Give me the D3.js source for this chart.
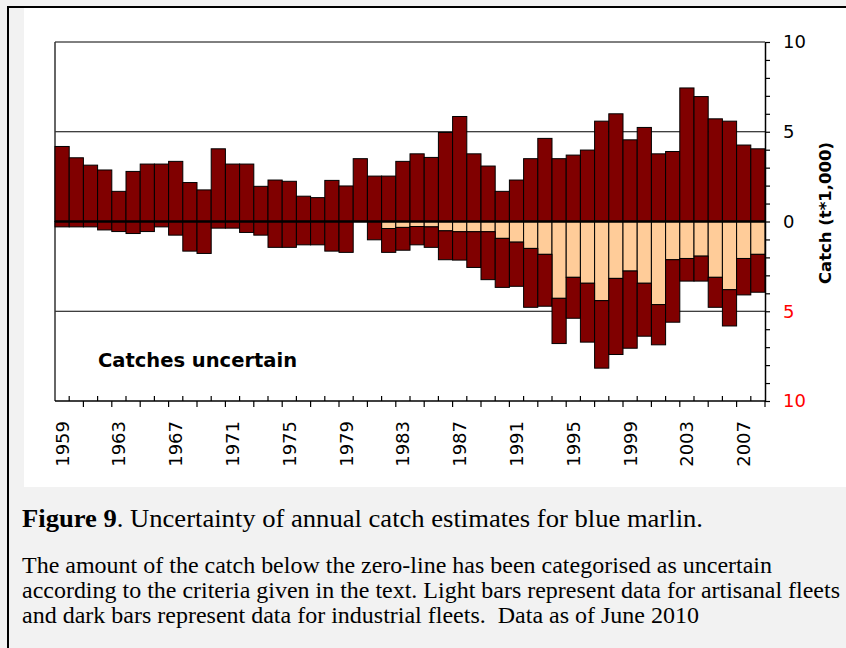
<!DOCTYPE html>
<html>
<head>
<meta charset="utf-8">
<script src="https://cdn.jsdelivr.net/npm/d3@7"></script>
<style>
  body { margin: 0; background: #fff; }
  svg { display: block; }
</style>
</head>
<body>
<div id="chart"></div>
<script>
// Years (categories)
const years = [1959, 1960, 1961, 1962, 1963, 1964, 1965, 1966, 1967, 1968,
               1969, 1970, 1971, 1972, 1973, 1974, 1975, 1976, 1977, 1978,
               1979, 1980, 1981, 1982, 1983, 1984, 1985, 1986, 1987, 1988,
               1989, 1990, 1991, 1992, 1993, 1994, 1995, 1996, 1997, 1998,
               1999, 2000, 2001, 2002, 2003, 2004, 2005, 2006, 2007, 2008];

// Catch above the zero-line (t*1,000)
const certainCatch = [4.18, 3.55, 3.14, 2.87, 1.68, 2.79, 3.2, 3.2, 3.35, 2.17,
                      1.76, 4.05, 3.2, 3.2, 1.96, 2.31, 2.24, 1.41, 1.33, 2.29,
                      1.98, 3.5, 2.53, 2.53, 3.35, 3.77, 3.57, 4.96, 5.85, 3.77,
                      3.09, 1.68, 2.31, 3.5, 4.63, 3.5, 3.7, 3.98, 5.59, 6.0,
                      4.55, 5.24, 3.77, 3.9, 7.44, 6.96, 5.72, 5.59, 4.26, 4.05];

// Uncertain catch, artisanal fleets (light bars, below zero)
const uncertainArtisanal = [0, 0, 0, 0, 0, 0, 0, 0, 0, 0,
                            0, 0, 0, 0, 0, 0, 0, 0, 0, 0,
                            0, 0, 0, 0.39, 0.33, 0.28, 0.3, 0.52, 0.57, 0.57,
                            0.57, 0.94, 1.15, 1.5, 1.83, 4.28, 3.11, 3.44, 4.41, 3.17,
                            2.76, 3.44, 4.63, 2.13, 2.06, 1.93, 3.11, 3.8, 2.06, 1.83];

// Uncertain catch, industrial fleets (dark bars, below zero)
const uncertainIndustrial = [0.3, 0.3, 0.3, 0.47, 0.56, 0.67, 0.56, 0.3, 0.76, 1.65,
                             1.78, 0.37, 0.37, 0.61, 0.76, 1.44, 1.44, 1.3, 1.3, 1.65,
                             1.72, 0, 1.02, 1.33, 1.27, 1.02, 1.14, 1.61, 1.58, 1.99,
                             2.67, 2.73, 2.46, 3.28, 2.89, 2.52, 2.28, 3.28, 3.76, 4.24,
                             4.3, 2.95, 2.24, 3.48, 1.26, 1.39, 1.67, 2.02, 2.03, 2.11];

const labelYears = [1959, 1963, 1967, 1971, 1975, 1979, 1983, 1987, 1991, 1995, 1999, 2003, 2007];
const gridValues = [10, 5, -5];

const width = 846;
const height = 648;
const plot = { left: 55, right: 765, top: 42, bottom: 401 };
const dark = "#800000";
const light = "#ffcc99";
const chartFont = "'DejaVu Sans', Verdana, sans-serif";
const captionFont = "'Liberation Serif', 'Times New Roman', serif";

const svg = d3.select("#chart")
    .append("svg")
    .attr("width", width)
    .attr("height", height);

// Page background, white chart panel and frame
svg.append("rect").attr("width", width).attr("height", height).attr("fill", "#f2f2f2");
svg.append("rect").attr("x", 24).attr("y", 8).attr("width", width - 24).attr("height", 479).attr("fill", "#fff");
svg.append("rect")
    .attr("x", 8).attr("y", 7).attr("width", 900).attr("height", 700)
    .attr("fill", "none").attr("stroke", "#000").attr("stroke-width", 2);

const x = d3.scaleBand().domain(years).range([plot.left, plot.right]).padding(0);
const y = d3.scaleLinear().domain([-10, 10]).range([plot.bottom, plot.top]);

// Gridlines
svg.append("g").selectAll("line")
    .data(gridValues)
  .join("line")
    .attr("x1", plot.left).attr("x2", plot.right)
    .attr("y1", d => y(d)).attr("y2", d => y(d))
    .attr("stroke", "#000").attr("stroke-width", 1);

// Left frame line
svg.append("line")
    .attr("x1", plot.left).attr("x2", plot.left)
    .attr("y1", plot.top).attr("y2", plot.bottom)
    .attr("stroke", "#333").attr("stroke-width", 1.5);

const data = years.map((year, i) => ({
    year,
    certain: certainCatch[i],
    art: uncertainArtisanal[i],
    ind: uncertainIndustrial[i]
}));

const bars = svg.append("g").attr("stroke", "#000").attr("stroke-width", 1);

// Catch above zero
bars.selectAll("rect.certain")
    .data(data)
  .join("rect")
    .attr("class", "certain")
    .attr("x", d => x(d.year))
    .attr("width", x.bandwidth())
    .attr("y", d => y(d.certain))
    .attr("height", d => y(0) - y(d.certain))
    .attr("fill", dark);

// Uncertain artisanal: from zero downwards
bars.selectAll("rect.art")
    .data(data.filter(d => d.art > 0))
  .join("rect")
    .attr("class", "art")
    .attr("x", d => x(d.year))
    .attr("width", x.bandwidth())
    .attr("y", y(0))
    .attr("height", d => y(-d.art) - y(0))
    .attr("fill", light);

// Uncertain industrial: stacked below the artisanal part
bars.selectAll("rect.ind")
    .data(data.filter(d => d.ind > 0))
  .join("rect")
    .attr("class", "ind")
    .attr("x", d => x(d.year))
    .attr("width", x.bandwidth())
    .attr("y", d => y(-d.art))
    .attr("height", d => y(-d.art - d.ind) - y(-d.art))
    .attr("fill", dark);

// Zero line
svg.append("line")
    .attr("x1", plot.left).attr("x2", plot.right)
    .attr("y1", y(0)).attr("y2", y(0))
    .attr("stroke", "#000").attr("stroke-width", 2.5);

// Right axis
const yAxis = d3.axisRight(y)
    .tickValues(d3.range(-10, 11))
    .tickSize(5)
    .tickSizeOuter(0)
    .tickPadding(13)
    .tickFormat(d => d % 5 === 0 ? Math.abs(d) : "");

svg.append("g")
    .attr("transform", `translate(${plot.right},0)`)
    .call(yAxis)
    .call(g => g.select(".domain").attr("stroke-width", 1.5))
    .call(g => g.selectAll(".tick line").attr("stroke-width", 1.2))
    .call(g => g.selectAll(".tick text")
        .attr("fill", d => d < 0 ? "#ff0000" : "#000")
        .style("font-family", chartFont)
        .style("font-size", "18px"));

// Bottom axis: line, alternating ticks at bar edges, rotated year labels
const xAxis = svg.append("g");
xAxis.append("line")
    .attr("x1", plot.left).attr("x2", plot.right + 1)
    .attr("y1", plot.bottom).attr("y2", plot.bottom)
    .attr("stroke", "#000").attr("stroke-width", 1.5);

const edges = years.map(d => x(d)).concat([x(years[years.length - 1]) + x.bandwidth()]);
xAxis.selectAll("line.tick")
    .data(edges.slice(1))
  .join("line")
    .attr("class", "tick")
    .attr("x1", d => d).attr("x2", d => d)
    .attr("y1", plot.bottom)
    .attr("y2", (d, i) => (i % 2 === 1) ? plot.bottom + 6 : plot.bottom - 5)
    .attr("stroke", "#000").attr("stroke-width", 1.2);

xAxis.selectAll("text")
    .data(labelYears)
  .join("text")
    .attr("transform", d => `translate(${x(d) + x.bandwidth() / 2},421) rotate(-90)`)
    .attr("dy", "0.36em")
    .attr("text-anchor", "end")
    .style("font-family", chartFont)
    .style("font-size", "18px")
    .text(d => d);

// Axis title
svg.append("text")
    .attr("transform", "translate(825,213) rotate(-90)")
    .attr("dy", "0.35em")
    .attr("text-anchor", "middle")
    .style("font-family", chartFont)
    .style("font-size", "16.5px")
    .style("font-weight", "bold")
    .text("Catch (t*1,000)");

// In-plot note
svg.append("text")
    .attr("x", 98).attr("y", 367)
    .style("font-family", chartFont)
    .style("font-size", "19.5px")
    .style("font-weight", "bold")
    .text("Catches uncertain");

// Caption
const heading = svg.append("text")
    .attr("x", 22).attr("y", 527)
    .attr("textLength", 681)
    .attr("lengthAdjust", "spacingAndGlyphs")
    .style("font-family", captionFont)
    .style("font-size", "25px");
heading.append("tspan").style("font-weight", "bold").text("Figure 9");
heading.append("tspan").text(". Uncertainty of annual catch estimates for blue marlin.");

const captionLines = [
    "The amount of the catch below the zero-line has been categorised as uncertain",
    "according to the criteria given in the text. Light bars represent data for artisanal fleets",
    "and dark bars represent data for industrial fleets.  Data as of June 2010"
];
const captionWidths = [750, 818, 677];
svg.append("g").selectAll("text")
    .data(captionLines)
  .join("text")
    .attr("x", 22)
    .attr("y", (d, i) => 573 + i * 25)
    .attr("textLength", (d, i) => captionWidths[i])
    .attr("lengthAdjust", "spacingAndGlyphs")
    .style("font-family", captionFont)
    .style("font-size", "23px")
    .style("white-space", "pre")
    .text(d => d);
</script>
</body>
</html>
